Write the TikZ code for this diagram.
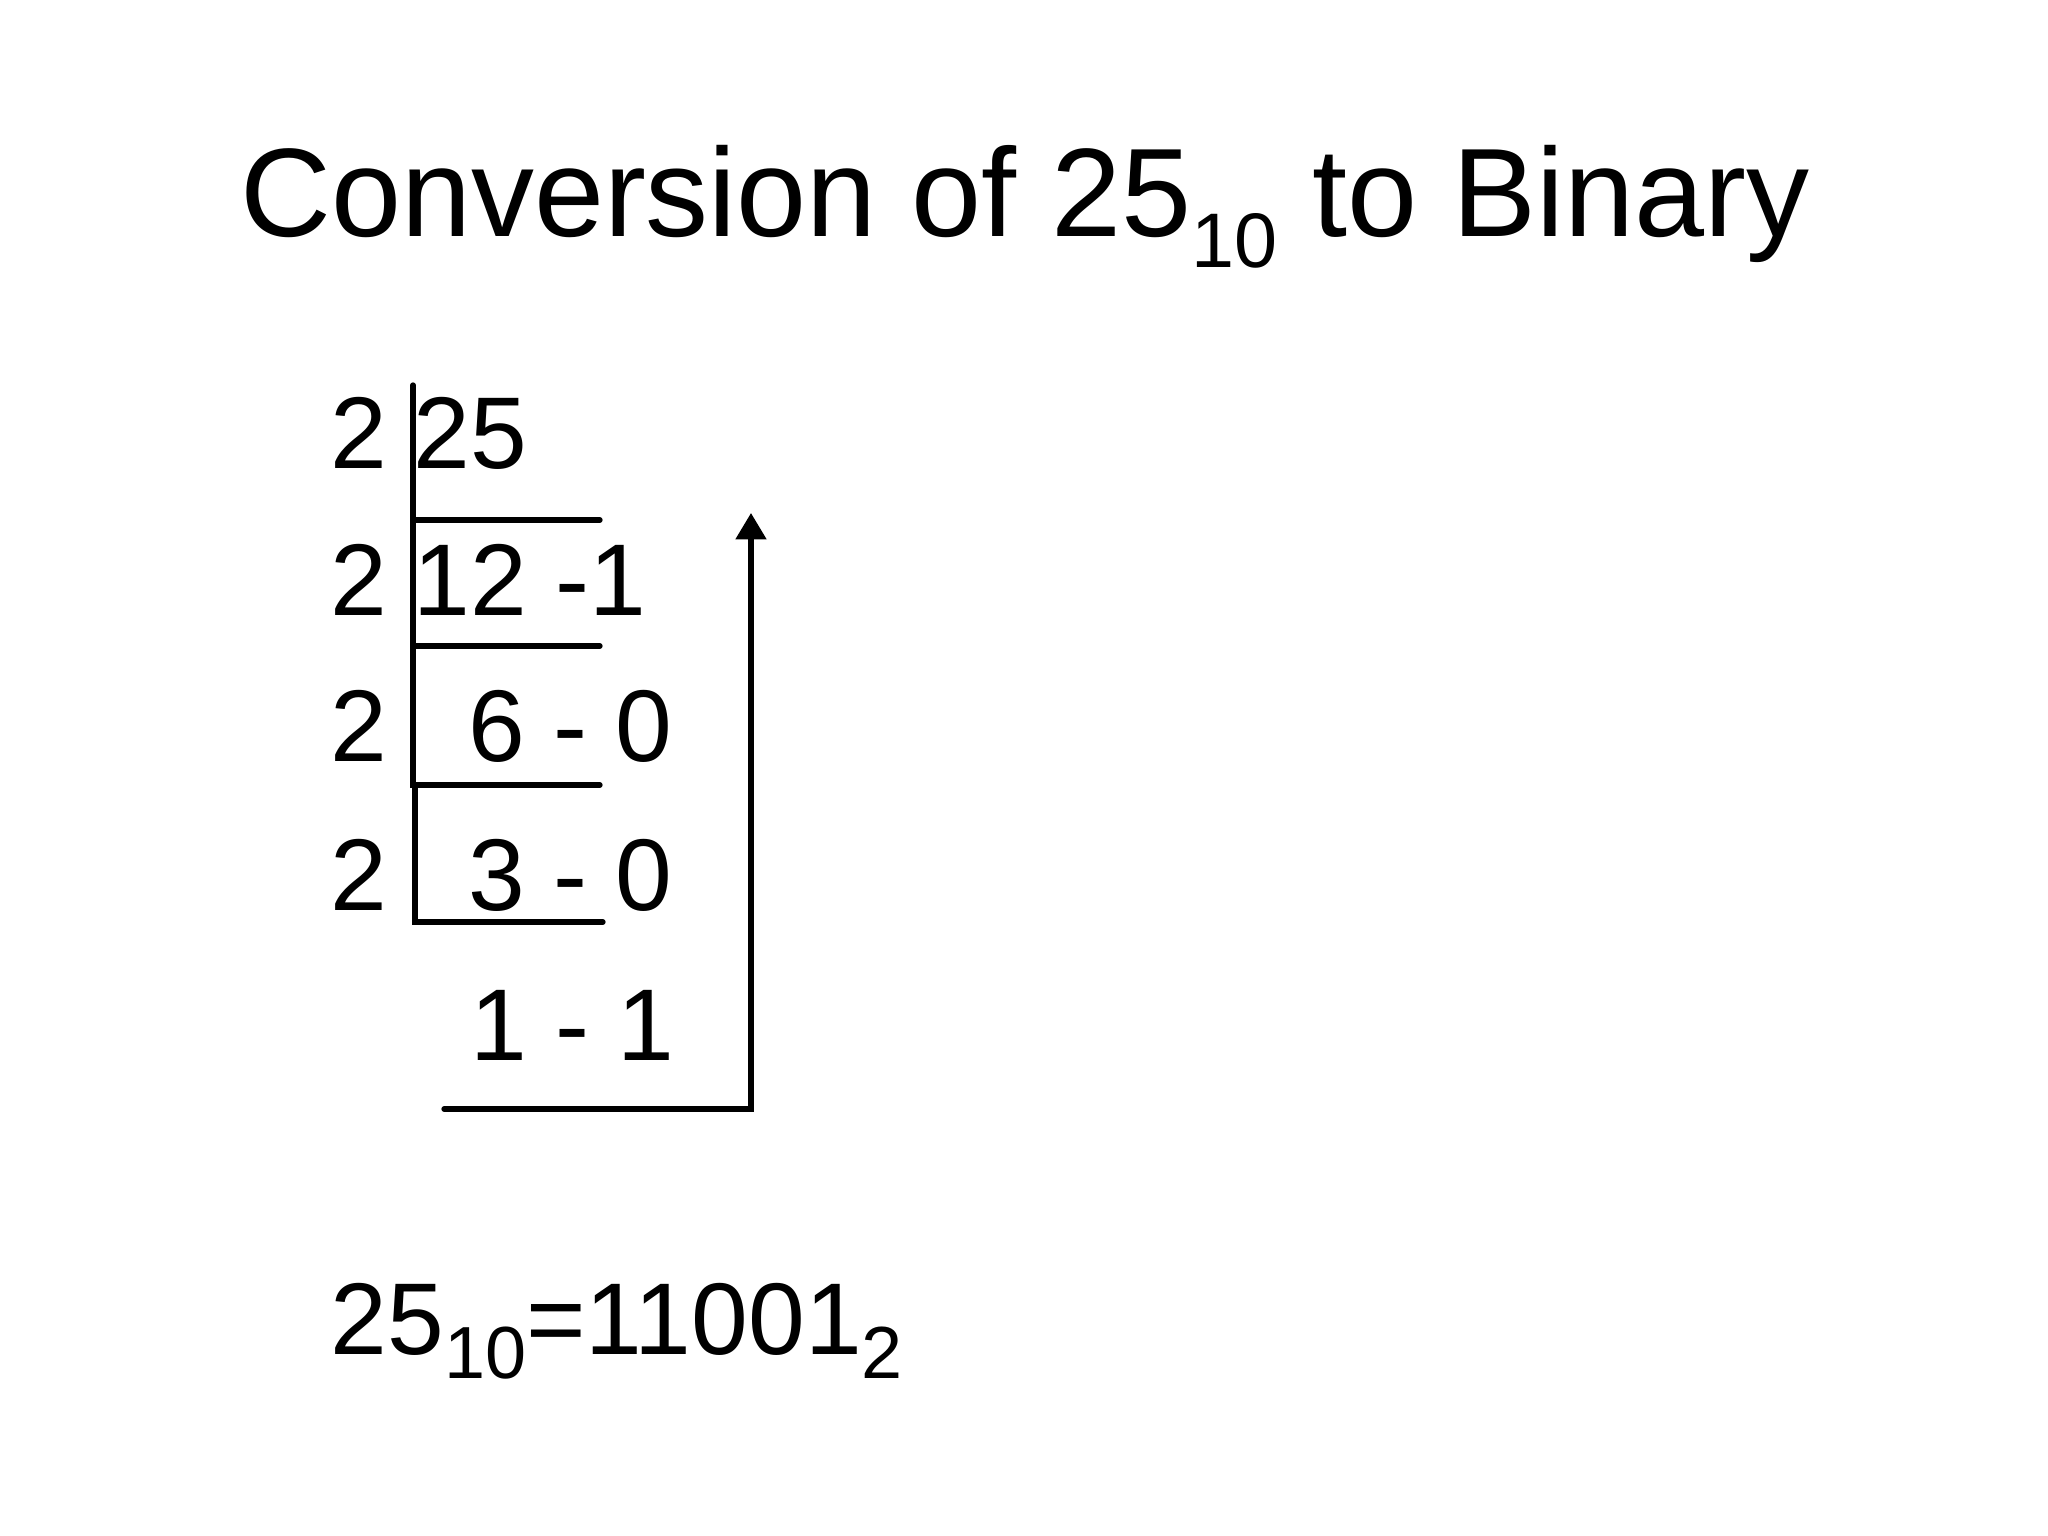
\documentclass[tikz,border=0pt]{standalone}
\usepackage{fontspec}
\setmainfont{Liberation Sans}
\usetikzlibrary{arrows.meta,positioning}
\tikzstyle{digit}=[inner sep=0pt, anchor=base west, font=\fontsize{29}{29}\selectfont]
\tikzstyle{bar}=[line width=1.5pt, line cap=round]
\newcommand{\lowsub}[3]{\raisebox{-#1}{\fontsize{#2}{#2}\selectfont #3}}

\begin{document}
\begin{tikzpicture}[x=0.01cm,y=-0.01cm]
	\useasboundingbox (0,0) rectangle (2048,1536);

	%%% title
	\node[inner sep=0pt,anchor=base] (title) at (1025,236) {\fontsize{35.8}{35.8}\selectfont Conversion of 25\lowsub{9pt}{22}{10} to Binary};

	%%% divisors
	\node[digit] (div1) at (330,468) {2};
	\node[digit] (div2) at (330,615) {2};
	\node[digit] (div3) at (330,761) {2};
	\node[digit] (div4) at (330,910) {2};

	%%% quotients and remainders
	\node[digit] (quo1) at (413,468) {25};
	\node[digit] (quo2) at (413,615) {12 -1};
	\node[digit] (quo3) at (468,761) {6 - 0};
	\node[digit] (quo4) at (468,910) {3 - 0};
	\node[digit] (quo5) at (470,1060) {1 - 1};

	% division bars
	\coordinate (barTop) at (413,385);
	\coordinate (bar1) at (413,520);
	\coordinate (bar2) at (413,646);
	\coordinate (bar3) at (413,785);
	\coordinate (bar4) at (415,922);
	\draw[bar] (barTop) -- (bar3) -- ++(187,0);
	\draw[bar] (bar1) -- ++(187,0);
	\draw[bar] (bar2) -- ++(187,0);
	\draw[bar] (bar3 -| bar4) -- (bar4) -- ++(188,0);

	% read upwards
	\coordinate (readStart) at (444,1109);
	\coordinate (readCorner) at (751,1109);
	\coordinate (readEnd) at (751,513);
	\draw[bar,-{Triangle[width=8.5pt,length=7.5pt]}] (readStart) -- (readCorner) -- (readEnd);

	%%% result
	\node[digit] (result) at (330,1354) {25\lowsub{7pt}{21}{10}=11001\lowsub{7pt}{21}{2}};
\end{tikzpicture}
\end{document}
